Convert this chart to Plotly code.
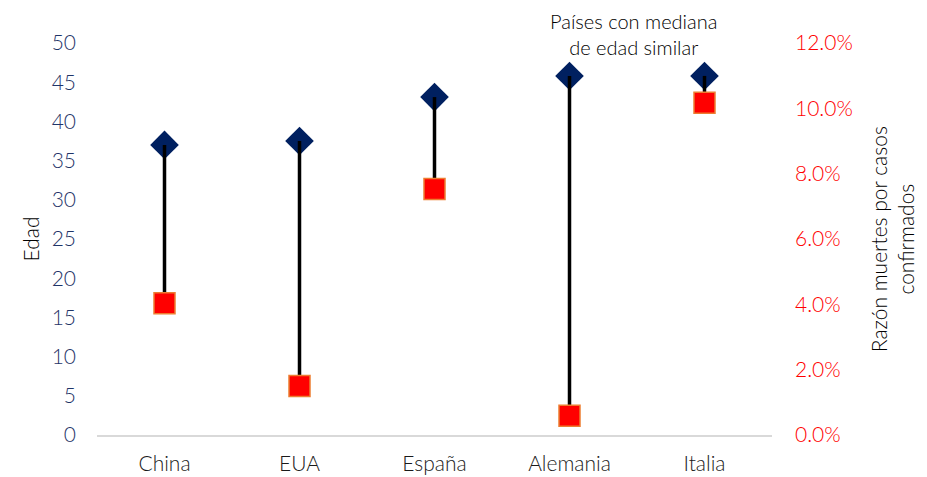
import plotly.graph_objects as go

paises = ["China", "EUA", "España", "Alemania", "Italia"]
edad_mediana = [37.0, 37.5, 43.1, 45.8, 45.8]
razon_muertes = [0.0403, 0.0150, 0.0753, 0.0059, 0.1017]

EDAD_MAX = 50
RAZON_MAX = 0.12

FONT = "Lato"
W = 300
NAVY = "#002060"
RED = "#FF0000"

fig = go.Figure()

# diamonds (age)
fig.add_trace(go.Scatter(
    x=paises, y=edad_mediana, mode="markers", name="Edad mediana",
    marker=dict(symbol="diamond", size=22, color=NAVY, line=dict(width=0)),
    yaxis="y", showlegend=False, hoverinfo="skip"))

# connecting lines (ratio converted to left-axis units)
lx, ly = [], []
for p, e, r in zip(paises, edad_mediana, razon_muertes):
    lx += [p, p, None]
    ly += [e, r / RAZON_MAX * EDAD_MAX, None]
fig.add_trace(go.Scatter(
    x=lx, y=ly, mode="lines", line=dict(color="black", width=3.5),
    yaxis="y", showlegend=False, hoverinfo="skip"))

# squares (ratio)
fig.add_trace(go.Scatter(
    x=paises, y=razon_muertes, mode="markers", name="Razón",
    marker=dict(symbol="square", size=21, color=RED,
                line=dict(width=1.5, color="#ED7D31")),
    yaxis="y2", showlegend=False, hoverinfo="skip"))

fig.update_layout(
    width=927, height=477,
    margin=dict(l=97, r=155, t=43, b=42, autoexpand=False),
    plot_bgcolor="white", paper_bgcolor="white",
    font=dict(family=FONT, size=20, color="black", weight=W),
    xaxis=dict(
        type="category", categoryorder="array", categoryarray=paises,
        range=[-0.5, 4.5], showgrid=False, zeroline=False, automargin=False,
        showline=True, linecolor="#D9D9D9", linewidth=2,
        ticks="", tickfont=dict(size=21, color="#1a1a1a", family=FONT, weight=W),
        ticklabelstandoff=9,
    ),
    yaxis=dict(
        range=[0, EDAD_MAX], dtick=5, showgrid=False, zeroline=False, automargin=False,
        showline=False, ticks="", tickfont=dict(size=21, color="#1F3468", family=FONT, weight=W),
        ticklabelstandoff=20,
    ),
    yaxis2=dict(
        range=[0, RAZON_MAX], dtick=0.02, tickformat=".1%", overlaying="y",
        side="right", showgrid=False, zeroline=False, showline=False, ticks="",
        automargin=False,
        tickfont=dict(size=21, color=RED, family=FONT, weight=W), ticklabelstandoff=22,
    ),
    annotations=[
        dict(text="Edad", xref="paper", yref="paper", x=-0.1, y=0.5,
             textangle=-90, showarrow=False, xanchor="center", yanchor="middle",
             font=dict(size=21, color="black", family=FONT, weight=W)),
        dict(text="Razón muertes por casos<br>confirmados", xref="paper", yref="paper",
             x=1.178, y=0.5, textangle=-90, showarrow=False,
             xanchor="center", yanchor="middle",
             font=dict(size=21, color="black", family=FONT, weight=W)),
        dict(text="Países con mediana<br>de edad similar", xref="paper", yref="paper",
             x=(633 - 97) / 675, y=(435 - 34) / 392, showarrow=False,
             xanchor="center", yanchor="middle",
             font=dict(size=20, color="black", family=FONT, weight=W)),
    ],
)

fig.write_html("out.html")
